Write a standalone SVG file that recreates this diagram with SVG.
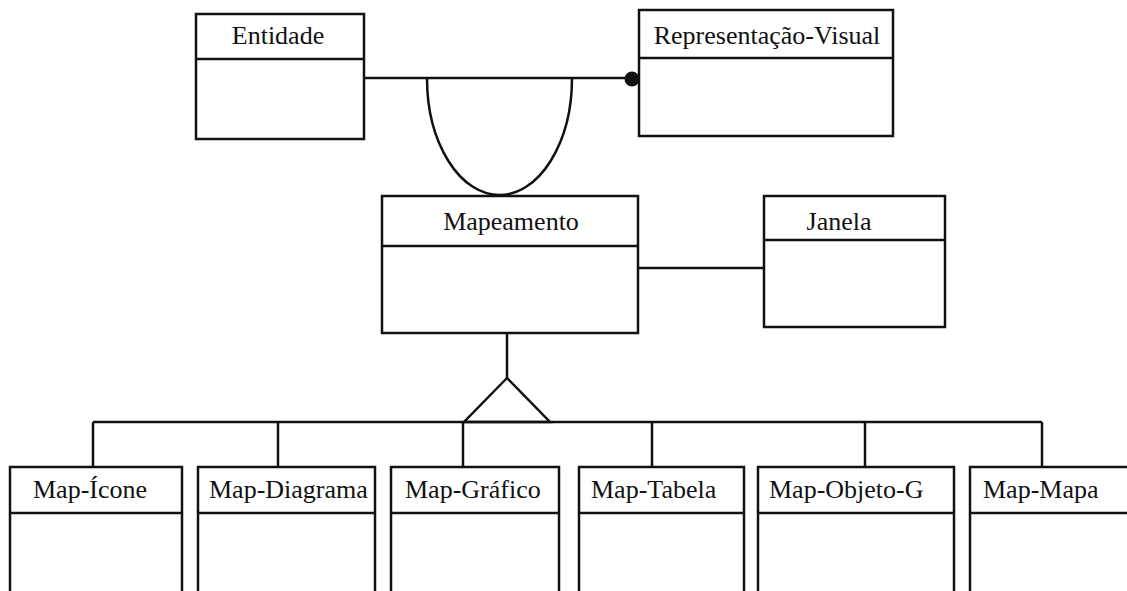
<svg xmlns="http://www.w3.org/2000/svg" width="1127" height="591" viewBox="0 0 1127 591">
<style>
.box{fill:none;stroke:#111;stroke-width:2.5}
.ln{fill:none;stroke:#111;stroke-width:2.5}
.t{font-family:"Liberation Serif","Times New Roman",serif;font-size:26px;fill:#111}
.c{text-anchor:middle}
</style>
<rect width="1127" height="591" fill="#fff"/>
<g id="connectors">
<line class="ln" x1="364" y1="78" x2="639" y2="78"/>
<circle cx="632" cy="79" r="7.5" fill="#111"/>
<path class="ln" d="M427,78 A72.5,117 0 0 0 572,78"/>
<line class="ln" x1="638" y1="268" x2="764" y2="268"/>
<line class="ln" x1="507" y1="333" x2="507" y2="378"/>
<path class="ln" d="M507,378 L464,422 L550,422 Z" stroke-linejoin="miter"/>
<line class="ln" x1="93" y1="422" x2="1042" y2="422"/>
<line class="ln" x1="93" y1="422" x2="93" y2="467"/>
<line class="ln" x1="278" y1="422" x2="278" y2="467"/>
<line class="ln" x1="463" y1="422" x2="463" y2="467"/>
<line class="ln" x1="652" y1="422" x2="652" y2="467"/>
<line class="ln" x1="865" y1="422" x2="865" y2="467"/>
<line class="ln" x1="1042" y1="422" x2="1042" y2="467"/>
</g>
<g id="entidade">
<rect class="box" x="196" y="14" width="168" height="125"/>
<line class="ln" x1="196" y1="59" x2="364" y2="59"/>
<text class="t c" x="278" y="44">Entidade</text>
</g>
<g id="representacao-visual">
<rect class="box" x="639" y="10" width="254" height="126"/>
<line class="ln" x1="639" y1="58" x2="893" y2="58"/>
<text class="t c" x="767" y="44">Representação-Visual</text>
</g>
<g id="mapeamento">
<rect class="box" x="382" y="196" width="256" height="137"/>
<line class="ln" x1="382" y1="246" x2="638" y2="246"/>
<text class="t c" x="511" y="230">Mapeamento</text>
</g>
<g id="janela">
<rect class="box" x="764" y="196" width="181" height="131"/>
<line class="ln" x1="764" y1="240" x2="945" y2="240"/>
<text class="t c" x="839" y="230">Janela</text>
</g>
<g id="map-icone">
<rect class="box" x="10" y="467" width="172" height="140"/>
<line class="ln" x1="10" y1="513" x2="182" y2="513"/>
<text class="t" x="33" y="498">Map-Ícone</text>
</g>
<g id="map-diagrama">
<rect class="box" x="198" y="467" width="177" height="140"/>
<line class="ln" x1="198" y1="513" x2="375" y2="513"/>
<text class="t" x="209" y="498">Map-Diagrama</text>
</g>
<g id="map-grafico">
<rect class="box" x="391" y="467" width="168" height="140"/>
<line class="ln" x1="391" y1="513" x2="559" y2="513"/>
<text class="t" x="405" y="498">Map-Gráfico</text>
</g>
<g id="map-tabela">
<rect class="box" x="579" y="467" width="165" height="140"/>
<line class="ln" x1="579" y1="513" x2="744" y2="513"/>
<text class="t" x="591" y="498">Map-Tabela</text>
</g>
<g id="map-objeto-g">
<rect class="box" x="758" y="467" width="196" height="140"/>
<line class="ln" x1="758" y1="513" x2="954" y2="513"/>
<text class="t" x="769" y="498">Map-Objeto-G</text>
</g>
<g id="map-mapa">
<rect class="box" x="970" y="467" width="170" height="140"/>
<line class="ln" x1="970" y1="513" x2="1140" y2="513"/>
<text class="t" x="983" y="498">Map-Mapa</text>
</g>
</svg>
